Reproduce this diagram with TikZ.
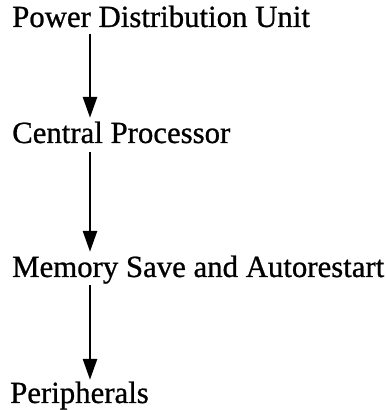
\documentclass[tikz,border=0pt]{standalone}
\usepackage{fontspec}
\setmainfont{Liberation Serif}
\newfontfamily\heavyserif[FakeBold=0.8]{Liberation Serif}
\usetikzlibrary{arrows.meta}
\begin{document}
\begin{tikzpicture}[x=1pt,y=1pt,
  label/.style={anchor=base west,inner sep=0pt,text height=25pt,text depth=6pt,
    font=\heavyserif\fontsize{30.8}{36}\selectfont},
  flow/.style={line width=2.8pt,-{Triangle[width=14pt,length=21pt]}}]
\useasboundingbox (0,0) rectangle (386,410);
\coordinate (ax) at (90,0);
\node[label] (p1) at (12,383) {Power Distribution Unit};
\node[label] (p2) at (12,267) {Central Processor};
\node[label] (p3) at (12,133) {Memory Save and Autorestart};
\node[label] (p4) at (10,7) {Peripherals};
\draw[flow] ([yshift=-1pt]p1.south -| ax) -- (p2.north -| ax);
\draw[flow] ([yshift=-3pt]p2.south -| ax) -- (p3.north -| ax);
\draw[flow] ([yshift=-2pt]p3.south -| ax) -- ([yshift=-2pt]p4.north -| ax);
\end{tikzpicture}
\end{document}
